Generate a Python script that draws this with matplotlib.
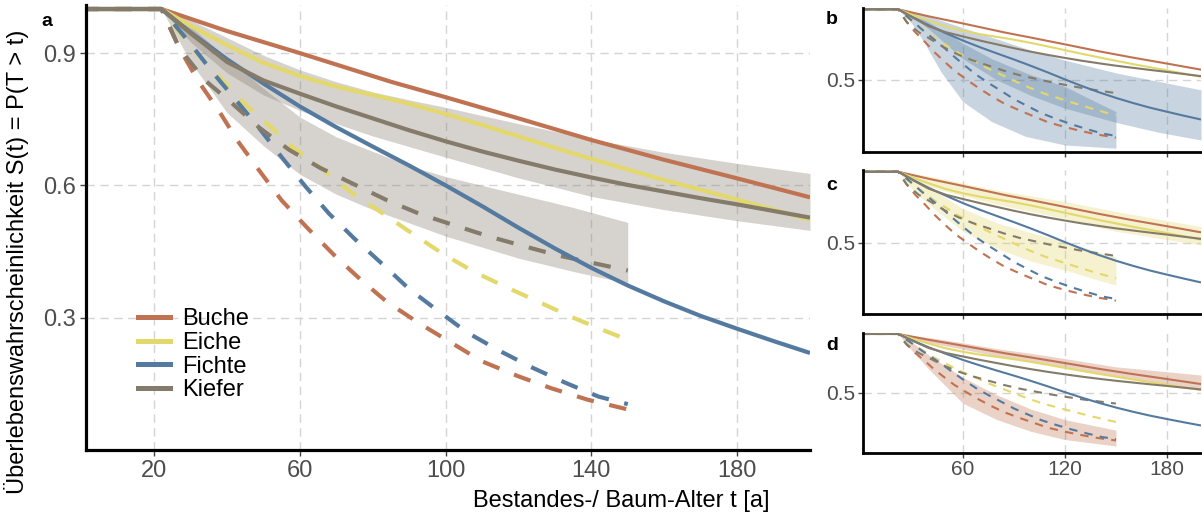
import matplotlib
matplotlib.use("Agg")
import matplotlib.pyplot as plt
from matplotlib.lines import Line2D

plt.rcParams['font.family'] = ['Liberation Sans', 'DejaVu Sans']

species = ['Buche', 'Eiche', 'Fichte', 'Kiefer']
colors = {'Buche': '#C07352', 'Eiche': '#E3D86C', 'Fichte': '#557AA0', 'Kiefer': '#857B6B'}

# solid curves
t_buche = [0, 22, 40, 60, 85, 100, 120, 140, 160, 180, 200]
s_buche = [1, 1, 0.95, 0.90, 0.835, 0.80, 0.752, 0.703, 0.658, 0.616, 0.573]
t_eiche = [0, 22, 30, 40, 50, 60, 70, 80, 90, 100, 110, 120, 130, 140, 150, 160, 170, 180, 190, 200]
s_eiche = [1, 1, 0.962, 0.918, 0.878, 0.848, 0.824, 0.805, 0.785, 0.762, 0.737, 0.711, 0.685, 0.66,
           0.636, 0.612, 0.59, 0.568, 0.545, 0.522]
t_fichte = [0, 22, 30, 40, 50, 60, 70, 80, 90, 100, 110, 120, 130, 140, 150, 160, 170, 180, 190, 200]
s_fichte = [1, 1, 0.947, 0.886, 0.831, 0.779, 0.732, 0.688, 0.645, 0.60, 0.553, 0.504, 0.457, 0.413,
            0.373, 0.337, 0.304, 0.275, 0.247, 0.22]
t_kiefer = [0, 22, 30, 40, 50, 60, 70, 80, 90, 100, 110, 120, 130, 140, 150, 160, 170, 180, 190, 200]
s_kiefer = [1, 1, 0.945, 0.88, 0.838, 0.808, 0.779, 0.752, 0.725, 0.70, 0.677, 0.656, 0.636, 0.618,
            0.601, 0.586, 0.571, 0.557, 0.542, 0.527]

# dashed curves
td_buche = [0, 22, 27, 32, 38, 43, 49, 55, 62, 70, 77, 84, 93, 102, 110, 120, 129, 139, 150]
sd_buche = [1, 1, 0.91, 0.838, 0.766, 0.70, 0.632, 0.566, 0.504, 0.437, 0.384, 0.335, 0.286, 0.241,
            0.201, 0.167, 0.14, 0.114, 0.092]
td_eiche = [0, 22, 30, 37, 43.4, 51, 58, 66, 74, 82.5, 91, 99.4, 108, 117, 126, 135, 145, 150]
sd_eiche = [1, 1, 0.914, 0.855, 0.796, 0.74, 0.687, 0.638, 0.585, 0.538, 0.49, 0.444, 0.403, 0.368,
            0.334, 0.30, 0.266, 0.25]
td_fichte = [0, 22, 30, 36, 42.5, 49, 55, 61.5, 68, 75, 82.6, 90, 98, 106, 115, 124, 133, 142, 150]
sd_fichte = [1, 1, 0.921, 0.857, 0.793, 0.728, 0.664, 0.598, 0.536, 0.479, 0.422, 0.365, 0.315, 0.266,
             0.224, 0.186, 0.152, 0.121, 0.104]
td_kiefer = [0, 22, 27, 34, 41, 49, 57, 65.5, 75, 84, 93, 102.6, 112, 122, 131, 141, 150]
sd_kiefer = [1, 1, 0.91, 0.838, 0.789, 0.73, 0.681, 0.64, 0.602, 0.566, 0.535, 0.509, 0.484, 0.461,
             0.441, 0.423, 0.407]

solid = {'Buche': (t_buche, s_buche), 'Eiche': (t_eiche, s_eiche),
         'Fichte': (t_fichte, s_fichte), 'Kiefer': (t_kiefer, s_kiefer)}
dashed = {'Buche': (td_buche, sd_buche), 'Eiche': (td_eiche, sd_eiche),
          'Fichte': (td_fichte, sd_fichte), 'Kiefer': (td_kiefer, sd_kiefer)}

# confidence bands: (t, lower, upper)
band_kiefer = ([22, 30, 40, 50, 60, 70, 80, 90, 100, 120, 140, 160, 180, 200],
               [1, 0.925, 0.855, 0.805, 0.77, 0.74, 0.712, 0.688, 0.664, 0.617, 0.575, 0.545, 0.52, 0.498],
               [1, 0.975, 0.935, 0.895, 0.862, 0.835, 0.812, 0.794, 0.777, 0.74, 0.705, 0.675, 0.65, 0.627])
bandd_kiefer = ([22, 30, 40, 50, 60, 70, 80, 90, 100, 110, 120, 135, 150],
                [1, 0.88, 0.765, 0.69, 0.625, 0.58, 0.545, 0.515, 0.485, 0.46, 0.435, 0.405, 0.378],
                [1, 0.96, 0.89, 0.82, 0.755, 0.71, 0.677, 0.645, 0.62, 0.60, 0.58, 0.55, 0.516])
band_fichte = ([22, 30, 40, 60, 80, 100, 120, 150, 175, 200],
               [1, 0.95, 0.86, 0.65, 0.50, 0.39, 0.30, 0.20, 0.13, 0.075],
               [1, 0.985, 0.95, 0.87, 0.79, 0.71, 0.64, 0.55, 0.49, 0.43])
bandd_fichte = ([22, 30, 37, 47, 60, 77, 97, 120, 150],
                [1, 0.90, 0.77, 0.56, 0.347, 0.205, 0.10, 0.04, 0.017],
                [1, 0.975, 0.93, 0.86, 0.76, 0.65, 0.55, 0.453, 0.276])
band_eiche = ([22, 40, 60, 80, 100, 120, 150, 200],
              [1, 0.895, 0.83, 0.77, 0.72, 0.67, 0.58, 0.484],
              [1, 0.97, 0.92, 0.87, 0.83, 0.79, 0.72, 0.613])
bandd_eiche = ([22, 30, 40, 60, 80, 100, 120, 150],
               [1, 0.88, 0.77, 0.58, 0.46, 0.37, 0.307, 0.20],
               [1, 0.95, 0.89, 0.74, 0.64, 0.57, 0.507, 0.40])
band_buche = ([22, 40, 60, 80, 100, 120, 150, 200],
              [1, 0.925, 0.87, 0.81, 0.765, 0.71, 0.64, 0.523],
              [1, 0.97, 0.925, 0.875, 0.835, 0.79, 0.72, 0.65])
bandd_buche = ([22, 30, 40, 60, 80, 100, 120, 150],
               [1, 0.86, 0.70, 0.41, 0.27, 0.17, 0.10, 0.045],
               [1, 0.93, 0.82, 0.63, 0.48, 0.36, 0.27, 0.18])

W, H = 1202, 515
fig = plt.figure(figsize=(W / 100, H / 100), dpi=100)


def px_axes(left, top, right, bottom):
    return fig.add_axes([left / W, 1 - bottom / H, (right - left) / W, (bottom - top) / H])


def draw_panel(ax, bands, band_color, lw, dash, spine_lw, alpha):
    for (bt, lo, up) in bands:
        ax.fill_between(bt, lo, up, color=band_color, alpha=alpha, lw=0)
    for sp in species:
        t, s = dashed[sp]
        ax.plot(t, s, color=colors[sp], lw=lw, dashes=dash, solid_capstyle='butt')
    for sp in species:
        t, s = solid[sp]
        ax.plot(t, s, color=colors[sp], lw=lw, solid_capstyle='butt')
    ax.set_xlim(1.3, 200)
    for side in ['top', 'right']:
        ax.spines[side].set_visible(False)
    for side in ['left', 'bottom']:
        ax.spines[side].set_linewidth(spine_lw)
        ax.spines[side].set_color('black')
    ax.grid(True, color='#D4D4D4', lw=1.0, linestyle=(0, (6, 4)))
    ax.set_axisbelow(True)


# panel a
ax_a = px_axes(86, 4.6, 810, 450)
draw_panel(ax_a, [band_kiefer, bandd_kiefer], colors['Kiefer'], 3.0, (4.2, 3.8), 2.3, 0.33)
ax_a.set_ylim(0, 1.01)
ax_a.set_xticks([20, 60, 100, 140, 180])
ax_a.set_yticks([0.3, 0.6, 0.9])
ax_a.tick_params(labelsize=17, labelcolor='#4D4D4D', color='#444444', length=4, width=1, pad=3)
handles = [Line2D([], [], color=colors[sp], lw=3.6) for sp in species]
ax_a.legend(handles, species, loc='upper left', bbox_to_anchor=(0.072, 0.318), frameon=False,
            fontsize=17, handlelength=1.35, handletextpad=0.5, labelspacing=0.07,
            borderpad=0, borderaxespad=0)

# panels b, c, d
small = [
    ('b', (863, 7.9, 1201, 151.6), (-0.007, 1.01), [band_fichte, bandd_fichte], colors['Fichte']),
    ('c', (863, 170.3, 1201, 314.1), (-0.003, 1.01), [band_eiche, bandd_eiche], colors['Eiche']),
    ('d', (863, 332.8, 1201, 452.7), (-0.012, 1.01), [band_buche, bandd_buche], colors['Buche']),
]
for name, box, ylim, bands, bcol in small:
    ax = px_axes(*box)
    draw_panel(ax, bands, bcol, 1.5, (4, 3.5), 2.0, 0.32)
    ax.set_ylim(*ylim)
    ax.set_xticks([60, 120, 180])
    ax.set_yticks([0.5])
    ax.tick_params(labelsize=15, labelcolor='#4D4D4D', color='#444444', length=3.5, width=1, pad=2)
    if name != 'd':
        ax.set_xticklabels([])

for name, (x, y) in zip('abcd', [(47, 21), (832, 20), (832, 185), (832, 345)]):
    fig.text(x / W, 1 - y / H, name, fontsize=14, fontweight='bold', ha='center', va='center')

fig.text(17 / W, 1 - 262 / H, 'Überlebenswahrscheinlichkeit S(t) = P(T > t)', rotation=90,
         ha='center', va='center', fontsize=17)
fig.text(621 / W, 1 - 501 / H, 'Bestandes-/ Baum-Alter t [a]', ha='center', va='center', fontsize=17)

fig.savefig('out.png', dpi=100)
